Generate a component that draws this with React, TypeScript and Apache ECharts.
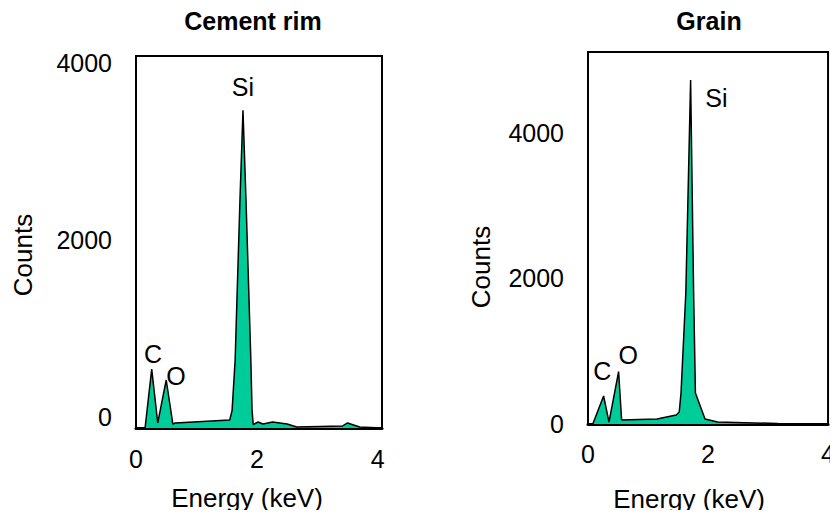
import React, { useEffect, useRef } from "react";
import * as echarts from "echarts";

// ---- Data ----
const titles = ["Cement rim", "Grain"];
const yTickValues = [0, 2000, 4000];
const xTickValues = [0, 2, 4];

// Cement rim spectrum: energy (keV) and counts
const rimEnergy = [0, 0.15, 0.26, 0.36, 0.5, 0.61, 0.65, 1.55, 1.59, 1.64, 1.67, 1.72, 1.77, 1.82, 1.87, 1.9, 1.92, 1.94, 2.02, 2.1, 2.26, 2.5, 2.66, 3.42, 3.5, 3.7, 4.07];
const rimCounts = [0, 0, 668, 57, 544, 45, 57, 90, 200, 770, 1450, 2580, 3600, 2580, 1450, 770, 200, 40, 68, 45, 68, 45, 11, 23, 57, 11, 0];

// Grain spectrum
const grainEnergy = [0, 0.08, 0.26, 0.35, 0.51, 0.56, 1.15, 1.47, 1.52, 1.55, 1.63, 1.71, 1.76, 1.79, 1.95, 2.16, 2.6, 3.15, 3.2, 4.0];
const grainCounts = [0, 0, 385, 27, 720, 55, 69, 124, 165, 426, 1800, 4725, 1800, 426, 69, 27, 18, 8, 0, 0];

// Peak labels
const rimLabels = [
  { name: "Si", e: 1.77, c: 3864 },
  { name: "C", e: 0.28, c: 839 },
  { name: "O", e: 0.66, c: 589 },
];
const grainLabels = [
  { name: "Si", e: 2.14, c: 4478 },
  { name: "C", e: 0.24, c: 728 },
  { name: "O", e: 0.67, c: 948 },
];

const FONT = "'Liberation Sans', Arial, sans-serif";
const FILL = "#00CC99";

export default function App() {
  const ref = useRef<HTMLDivElement>(null);
  useEffect(() => {
    if (!ref.current) return;
    const chart = echarts.init(ref.current, null, { renderer: "svg" });
    const pair = (es: number[], cs: number[]) => es.map((e, i) => [e, cs[i]]);
    const lbl = (arr: { name: string; e: number; c: number }[]) =>
      arr.map((d) => ({ name: d.name, value: [d.e, d.c] }));

    const xAxisCommon = (gi: number, max: number, margin: number, nameGap: number, namePad: number) => ({
      type: "value",
      gridIndex: gi,
      min: 0,
      max,
      splitLine: { show: false },
      axisTick: { show: false },
      axisLine: { show: true, lineStyle: { color: "#000", width: 3 } },
      axisLabel: {
        customValues: xTickValues,
        formatter: (v: number) => String(v),
        fontSize: 25,
        color: "#000",
        fontFamily: FONT,
        margin,
      },
      name: "Energy (keV)",
      nameLocation: "middle",
      nameGap,
      nameTextStyle: { fontSize: 26, color: "#000", fontFamily: FONT, padding: [0, namePad, 0, 0] },
    });
    const yAxisCommon = (gi: number, max: number, shifted: boolean, nameGap: number, namePad: number) => ({
      type: "value",
      gridIndex: gi,
      min: 0,
      max,
      splitLine: { show: false },
      axisTick: { show: false },
      axisLine: { show: true, lineStyle: { color: "#000", width: 2 } },
      axisLabel: {
        customValues: yTickValues,
        formatter: (v: number) => String(v),
        fontSize: 25,
        color: "#000",
        fontFamily: FONT,
        margin: 24,
        verticalAlign: shifted ? "bottom" : "middle",
        lineHeight: shifted ? 23 : 30,
      },
      name: "Counts",
      nameLocation: "middle",
      nameGap,
      nameRotate: 90,
      nameTextStyle: { fontSize: 26, color: "#000", fontFamily: FONT, padding: [0, namePad, 0, 0] },
    });

    const labelSeries = (gi: number, data: any[]) => ({
      type: "scatter",
      xAxisIndex: gi,
      yAxisIndex: gi,
      symbolSize: 0,
      itemStyle: { color: "#000", opacity: 1 },
      data,
      label: {
        show: true,
        position: "inside",
        formatter: "{b}",
        fontSize: 25,
        color: "#000",
        opacity: 1,
        textBorderWidth: 0,
        fontFamily: FONT,
      },
      silent: true,
    });
    const specSeries = (gi: number, data: number[][]) => ({
      type: "line",
      xAxisIndex: gi,
      yAxisIndex: gi,
      data,
      symbol: "none",
      lineStyle: { color: "#000", width: 1.5 },
      areaStyle: { color: FILL, opacity: 1 },
    });

    chart.setOption({
      animation: false,
      backgroundColor: "#fff",
      title: [
        {
          text: titles[0],
          left: 248,
          top: 3,
          textAlign: "center",
          textStyle: { fontSize: 25, fontWeight: "bold", color: "#000", fontFamily: FONT },
        },
        {
          text: titles[1],
          left: 704,
          top: 3,
          textAlign: "center",
          textStyle: { fontSize: 25, fontWeight: "bold", color: "#000", fontFamily: FONT },
        },
      ],
      grid: [
        { left: 136, top: 56, width: 246, height: 372, show: true, borderColor: "#000", borderWidth: 2 },
        { left: 588, top: 52, width: 249, height: 372, show: true, borderColor: "#000", borderWidth: 2 },
      ],
      xAxis: [xAxisCommon(0, 4.07, 18, 57, 24), xAxisCommon(1, 4.0, 17, 62, 38)],
      yAxis: [yAxisCommon(0, 4215, true, 100, 26), yAxisCommon(1, 5110, false, 94, 58)],
      series: [
        specSeries(0, pair(rimEnergy, rimCounts)),
        specSeries(1, pair(grainEnergy, grainCounts)),
        labelSeries(0, lbl(rimLabels)),
        labelSeries(1, lbl(grainLabels)),
      ],
    });
    return () => chart.dispose();
  }, []);
  return <div ref={ref} style={{ width: 838, height: 518, margin: -8 }} />;
}
